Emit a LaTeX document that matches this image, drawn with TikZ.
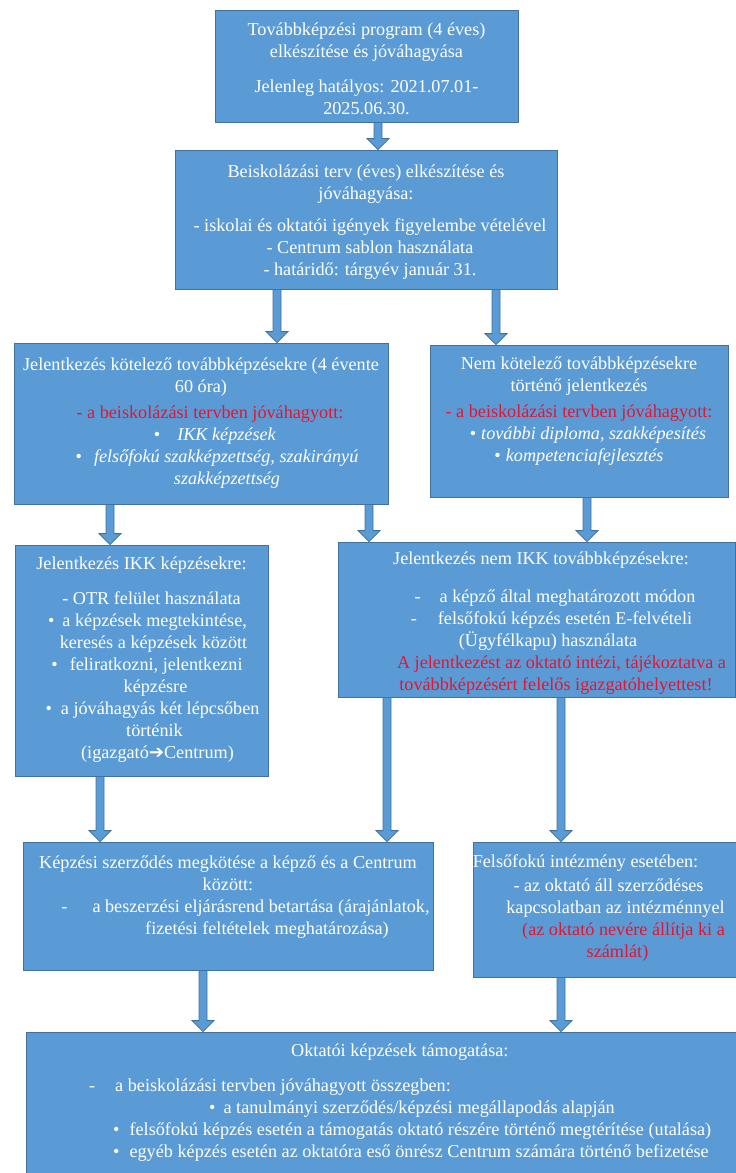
\documentclass[tikz,border=0pt]{standalone}
\usepackage{fontspec}
\setmainfont{Liberation Serif}
\newfontfamily\arrowfont{DejaVu Sans}
\usetikzlibrary{positioning,calc}
\definecolor{boxfill}{RGB}{91,155,213}
\definecolor{boxline}{RGB}{65,113,156}
\definecolor{redtxt}{RGB}{228,20,50}
\tikzset{
  box/.style={draw=boxline, fill=boxfill, line width=0.8bp, inner sep=0pt},
  txt/.style={text=white, align=center, inner sep=0pt, font=\fontsize{18.2bp}{22bp}\selectfont},
  barrow/.style={draw=boxline, fill=boxfill, line width=0.8bp}
}
\newcommand{\red}[1]{\textcolor{redtxt}{#1}}
% block arrow: x, from node, to node
\newcommand{\blockarrow}[3]{%
  \filldraw[barrow] let \p1=(#2.south), \p2=(#3.north) in
    (#1bp-4bp,\y1) -- (#1bp+4bp,\y1) -- (#1bp+4bp,\y2+11bp)
    -- (#1bp+11bp,\y2+11bp) -- (#1bp,\y2) -- (#1bp-11bp,\y2+11bp)
    -- (#1bp-4bp,\y2+11bp) -- cycle;}
\begin{document}
\begin{tikzpicture}[x=1bp,y=-1bp]
\useasboundingbox (0,0) rectangle (736,1173);
\clip (0,0) rectangle (736,1173);
    \node[box, minimum width=303bp, minimum height=112bp] (prog) at (366.5,66) {};
    \node[box, minimum width=382bp, minimum height=139bp] (terv) at (366,219.5) {};
    \node[box, minimum width=374bp, minimum height=161bp] (kotel) at (201,423.5) {};
    \node[box, minimum width=298bp, minimum height=152bp] (nemkot) at (579,421) {};
    \node[box, minimum width=253bp, minimum height=231bp] (ikk) at (141.5,660.5) {};
    \node[box, minimum width=397bp, minimum height=155bp] (nemikk) at (536.5,619.5) {};
    \node[box, minimum width=410bp, minimum height=128bp] (szerz) at (228,906) {};
    \node[box, minimum width=279bp, minimum height=135bp] (felso) at (612.5,909.5) {};
    \node[box, minimum width=814bp, minimum height=158bp] (tamog) at (433,1111) {};

    \node[txt, below=13bp of prog.north] (progtxt) {Továbbképzési program (4 éves)\\ elkészítése és jóváhagyása\\[13bp]
      Jelenleg hatályos: 2021.07.01-\\ 2025.06.30.};
    \node[txt, below=15bp of terv.north] (tervtxt) {Beiskolázási terv (éves) elkészítése és\\ jóváhagyása:\\[10bp]
      \hspace*{8bp}- iskolai és oktatói igények figyelembe vételével\\ \hspace*{8bp}- Centrum sablon használata\\ \hspace*{8bp}- határidő: tárgyév január 31.};
    \node[txt, below=15bp of kotel.north] (koteltxt) {Jelentkezés kötelező továbbképzésekre (4 évente\\ 60 óra)\\[4bp]
      \hspace*{18bp}\red{- a beiskolázási tervben jóváhagyott:}\\ \hspace*{28bp}•\hspace{17bp}\textit{IKK képzések}\\
      \hspace*{32bp}•\hspace{12bp}\textit{felsőfokú szakképzettség, szakirányú}\\ \hspace*{52bp}\textit{szakképzettség}};
    \node[txt, below=12bp of nemkot.north] (nemkottxt) {Nem kötelező továbbképzésekre\\ történő jelentkezés\\[4bp]
      \red{- a beiskolázási tervben jóváhagyott:}\\ \hspace*{18bp}•\hspace{5bp}\textit{további diploma, szakképesítés}\\
      •\hspace{5bp}\textit{kompetenciafejlesztés}};
    \node[txt, below=12bp of ikk.north] (ikktxt) {Jelentkezés IKK képzésekre:\\[13bp]
      \hspace*{20bp}- OTR felület használata\\ \hspace*{12bp}•\hspace{8bp}a képzések megtekintése,\\ \hspace*{24bp}keresés a képzések között\\
      \hspace*{11bp}•\hspace{12bp}feliratkozni, jelentkezni\\ \hspace*{28bp}képzésre\\
      \hspace*{22bp}•\hspace{9bp}a jóváhagyás két lépcsőben\\ \hspace*{26bp}történik\\ \hspace*{32bp}(igazgató{\arrowfont ➔}Centrum)};
    \node[txt, below=10bp of nemikk.north] (nemikktxt) {\hspace*{9bp}Jelentkezés nem IKK továbbképzésekre:\\[16bp]
      \hspace*{37bp}-\hspace{19bp}a képző által meghatározott módon\\ \hspace*{30bp}-\hspace{21bp}felsőfokú képzés esetén E-felvételi\\
      \hspace*{23bp}(Ügyfélkapu) használata\\ \hspace*{50bp}\red{A jelentkezést az oktató intézi, tájékoztatva a}\\
      \hspace*{39bp}\red{továbbképzésért felelős igazgatóhelyettest!}};
    \node[txt, below=14bp of szerz.north] (szerztxt) {Képzési szerződés megkötése a képző és a Centrum\\ között:\\
      \hspace*{35bp}-\hspace{25bp}a beszerzési eljárásrend betartása (árajánlatok,\\ \hspace*{78bp}fizetési feltételek meghatározása)};
    \node[txt, below=13bp of felso.north] (felsotxt) {\hspace*{-54bp}Felsőfokú intézmény esetében:\\[2bp]
      \hspace*{-8bp}- az oktató áll szerződéses\\ \hspace*{6bp}kapcsolatban az intézménnyel\\
      \hspace*{22bp}\red{(az oktató nevére állítja ki a}\\ \hspace*{10bp}\red{számlát)}};
    \node[txt, align=left, anchor=north west] (tamogtxt) at (89,1044) {\hspace*{202bp}Oktatói képzések támogatása:\\[13bp]
      -\hspace{20bp}a beiskolázási tervben jóváhagyott összegben:\\
      \hspace*{120bp}•\hspace{8bp}a tanulmányi szerződés/képzési megállapodás alapján\\
      \hspace*{24bp}•\hspace{10bp}felsőfokú képzés esetén a támogatás oktató részére történő megtérítése (utalása)\\
      \hspace*{24bp}•\hspace{10bp}egyéb képzés esetén az oktatóra eső önrész Centrum számára történő befizetése};

    \blockarrow{378}{prog}{terv}
    \blockarrow{277}{terv}{kotel}
    \blockarrow{496}{terv}{nemkot}
    \blockarrow{110}{kotel}{ikk}
    \blockarrow{369}{kotel}{nemikk}
    \blockarrow{587}{nemkot}{nemikk}
    \blockarrow{100}{ikk}{szerz}
    \blockarrow{387}{nemikk}{szerz}
    \blockarrow{561}{nemikk}{felso}
    \blockarrow{203}{szerz}{tamog}
    \blockarrow{561}{felso}{tamog}
\end{tikzpicture}
\end{document}
